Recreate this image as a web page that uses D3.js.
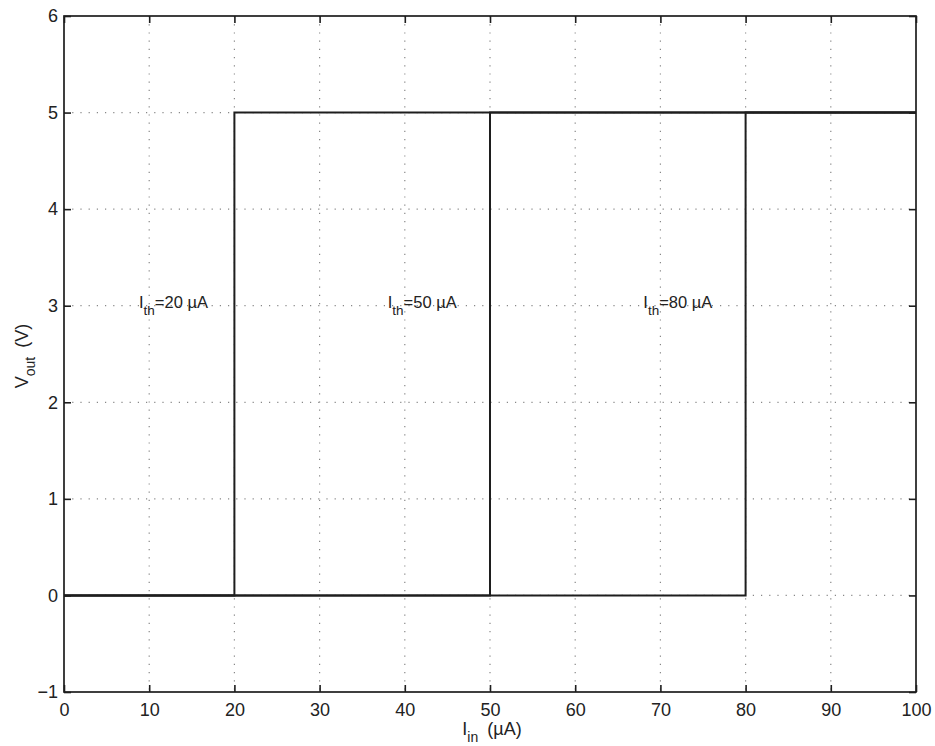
<!DOCTYPE html>
<html>
<head>
<meta charset="utf-8">
<script src="https://cdn.jsdelivr.net/npm/d3@7"></script>
<style>
  html, body { margin: 0; padding: 0; background: #fff; }
  svg text { font-family: "Liberation Sans", Arial, Helvetica, sans-serif; fill: #222; }
</style>
</head>
<body>
<svg id="chart" width="935" height="746"></svg>
<script>
// Input current sweep (µA) and output levels (V)
const thresholds = [20, 50, 80];
const vLow = 0;
const vHigh = 5;
const iStart = 0;
const iEnd = 100;
const xTicks = [0, 10, 20, 30, 40, 50, 60, 70, 80, 90, 100];
const yTicks = [-1, 0, 1, 2, 3, 4, 5, 6];
const labelX = [8.8, 38, 68];
const labelY = [3, 3, 3];
const labelText = ["20", "50", "80"];

const svg = d3.select("#chart");
const margin = { left: 64, right: 935 - 916, top: 16, bottom: 746 - 692 };
const W = 935, H = 746;

const x = d3.scaleLinear().domain([0, 100]).range([margin.left, W - margin.right]);
const y = d3.scaleLinear().domain([-1, 6]).range([H - margin.bottom, margin.top]);

const ink = "#1e1e1e";

// dotted grid
const grid = svg.append("g");
grid.selectAll("line.gx").data(xTicks.slice(1, -1)).join("line")
  .attr("x1", d => x(d)).attr("x2", d => x(d))
  .attr("y1", y(6)).attr("y2", y(-1))
  .attr("stroke", "#888").attr("stroke-width", 1.2)
  .attr("stroke-dasharray", "1.2,7");
grid.selectAll("line.gy").data(yTicks.slice(1, -1)).join("line")
  .attr("y1", d => y(d)).attr("y2", d => y(d))
  .attr("x1", x(0)).attr("x2", x(100))
  .attr("stroke", "#888").attr("stroke-width", 1.2)
  .attr("stroke-dasharray", "1.2,7");

// step responses, one per threshold
const line = d3.line().x(d => x(d[0])).y(d => y(d[1]));
thresholds.forEach(t => {
  const pts = [[iStart, vLow], [t, vLow], [t, vHigh], [iEnd, vHigh]];
  svg.append("path").attr("d", line(pts))
    .attr("fill", "none").attr("stroke", ink).attr("stroke-width", 2);
});

// axes with inward ticks on all four sides
const tickLen = 7;
svg.append("g").attr("transform", `translate(0,${y(-1)})`)
  .call(d3.axisBottom(x).tickValues(xTicks).tickSize(-tickLen).tickPadding(11))
  .call(g => g.select(".domain").remove());
svg.append("g").attr("transform", `translate(0,${y(6)})`)
  .call(d3.axisTop(x).tickValues(xTicks).tickSize(-tickLen).tickFormat(""))
  .call(g => g.select(".domain").remove());
svg.append("g").attr("transform", `translate(${x(0)},0)`)
  .call(d3.axisLeft(y).tickValues(yTicks).tickSize(-tickLen).tickPadding(6)
    .tickFormat(d => d < 0 ? "\u2212" + Math.abs(d) : d))
  .call(g => g.select(".domain").remove());
svg.append("g").attr("transform", `translate(${x(100)},0)`)
  .call(d3.axisRight(y).tickValues(yTicks).tickSize(-tickLen).tickFormat(""))
  .call(g => g.select(".domain").remove());

svg.selectAll(".tick line").attr("stroke", ink).attr("stroke-width", 1.6);
svg.selectAll(".tick text").attr("font-size", 18).attr("fill", "#222")
  .style("font-family", '"Liberation Sans", Arial, sans-serif');

// frame
svg.append("rect")
  .attr("x", x(0)).attr("y", y(6))
  .attr("width", x(100) - x(0)).attr("height", y(-1) - y(6))
  .attr("fill", "none").attr("stroke", ink).attr("stroke-width", 1.7);

// threshold annotations
labelX.forEach((lx, i) => {
  const t = svg.append("text")
    .attr("x", x(lx)).attr("y", y(labelY[i]) + 2)
    .attr("font-size", 16.5);
  t.append("tspan").text("I");
  t.append("tspan").attr("dy", 7).attr("font-size", 13.5).text("th");
  t.append("tspan").attr("dy", -7).text("=" + labelText[i] + " \u00b5A");
});

// x-axis title
const xt = svg.append("text")
  .attr("x", x(50) + 2).attr("y", 735)
  .attr("text-anchor", "middle").attr("font-size", 18);
xt.append("tspan").text("I");
xt.append("tspan").attr("dy", 7).attr("font-size", 14).text("in");
xt.append("tspan").attr("dy", -7).attr("dx", 9).text("(\u00b5A)");

// y-axis title
const yt = svg.append("text")
  .attr("transform", `translate(28,${(y(6) + y(-1)) / 2 + 2}) rotate(-90)`)
  .attr("text-anchor", "middle").attr("font-size", 18);
yt.append("tspan").text("V");
yt.append("tspan").attr("dy", 7).attr("font-size", 14).text("out");
yt.append("tspan").attr("dy", -7).attr("dx", 9).text("(V)");
</script>
</body>
</html>
